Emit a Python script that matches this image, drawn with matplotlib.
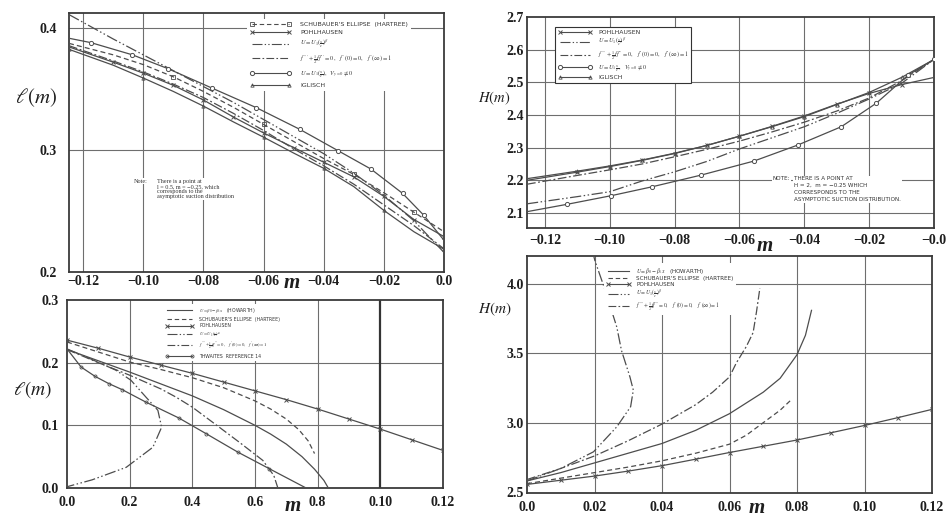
import matplotlib
matplotlib.use("Agg")
import matplotlib.pyplot as plt
from matplotlib.lines import Line2D

plt.rcParams['mathtext.fontset'] = 'stix'
plt.rcParams['font.family'] = ['Liberation Serif', 'DejaVu Serif']

# ---------------- data ----------------
# Top-left: l(m), accelerating range (m < 0)
tl_m_ubeta = [-0.1247, -0.11, -0.10, -0.09, -0.08, -0.07, -0.06, -0.05, -0.04, -0.03, -0.02, -0.01, 0.0]
tl_l_ubeta = [0.411, 0.391, 0.378, 0.365, 0.352, 0.339, 0.325, 0.311, 0.297, 0.281, 0.263, 0.242, 0.216]
tl_m_suct = [-0.1247, -0.1174, -0.1036, -0.0918, -0.0772, -0.0624, -0.048, -0.0352, -0.0243, -0.0138, -0.0068, 0.0]
tl_l_suct = [0.3916, 0.388, 0.378, 0.3667, 0.3508, 0.3347, 0.317, 0.2994, 0.2844, 0.2645, 0.2467, 0.226]
tl_m_grid = [-0.1247, -0.11, -0.10, -0.09, -0.08, -0.07, -0.06, -0.05, -0.04, -0.03, -0.02, -0.01, 0.0]
tl_l_schub = [0.3874, 0.378, 0.370, 0.360, 0.348, 0.335, 0.321, 0.307, 0.293, 0.280, 0.265, 0.249, 0.233]
tl_l_pohl = [0.3845, 0.372, 0.363, 0.353, 0.341, 0.327, 0.314, 0.302, 0.290, 0.278, 0.262, 0.243, 0.229]
tl_l_fs = [0.3855, 0.373, 0.364, 0.354, 0.343, 0.330, 0.316, 0.301, 0.287, 0.272, 0.255, 0.238, 0.219]
tl_l_igl = [0.3825, 0.3695, 0.359, 0.348, 0.336, 0.323, 0.3105, 0.2975, 0.285, 0.270, 0.2505, 0.233, 0.2186]

# Top-right: H(m), accelerating range
tr_m_grid = [-0.1255, -0.11, -0.10, -0.09, -0.08, -0.07, -0.06, -0.05, -0.04, -0.03, -0.02, -0.01, 0.0]
tr_h_igl = [2.205, 2.228, 2.244, 2.262, 2.283, 2.307, 2.335, 2.364, 2.395, 2.432, 2.469, 2.515, 2.57]
tr_h_pohl = [2.200, 2.225, 2.242, 2.261, 2.282, 2.307, 2.335, 2.365, 2.397, 2.433, 2.466, 2.493, 2.515]
tr_h_fs = [2.188, 2.215, 2.232, 2.250, 2.272, 2.295, 2.320, 2.348, 2.378, 2.412, 2.452, 2.505, 2.57]
tr_h_ubeta = [2.128, 2.150, 2.165, 2.198, 2.226, 2.258, 2.296, 2.330, 2.364, 2.405, 2.449, 2.497, 2.57]
tr_m_suct = [-0.1255, -0.1131, -0.0995, -0.087, -0.0718, -0.0555, -0.042, -0.0286, -0.0178, -0.008, 0.0]
tr_h_suct = [2.104, 2.1266, 2.153, 2.180, 2.216, 2.259, 2.308, 2.364, 2.436, 2.522, 2.57]

# Bottom-left: l(m), retarded range (m > 0)
bl_m_pohl = [0.0, 0.01, 0.02, 0.03, 0.04, 0.05, 0.06, 0.07, 0.08, 0.09, 0.10, 0.11, 0.12]
bl_l_pohl = [0.236, 0.223, 0.209, 0.196, 0.183, 0.169, 0.155, 0.141, 0.126, 0.110, 0.094, 0.077, 0.060]
bl_m_schub = [0.0, 0.01, 0.02, 0.03, 0.04, 0.05, 0.06, 0.065, 0.07, 0.074, 0.077, 0.079]
bl_l_schub = [0.233, 0.217, 0.201, 0.189, 0.176, 0.160, 0.139, 0.126, 0.110, 0.093, 0.075, 0.055]
bl_m_how = [0.0, 0.01, 0.02, 0.03, 0.04, 0.05, 0.06, 0.065, 0.07, 0.075, 0.079, 0.082, 0.0834]
bl_l_how = [0.221, 0.203, 0.185, 0.166, 0.147, 0.125, 0.100, 0.086, 0.070, 0.050, 0.030, 0.012, 0.0]
bl_m_fs = [0.0, 0.01, 0.02, 0.03, 0.0348, 0.04, 0.0486, 0.055, 0.0625, 0.066, 0.0673]
bl_l_fs = [0.221, 0.200, 0.180, 0.158, 0.145, 0.129, 0.097, 0.073, 0.044, 0.020, 0.0]
bl_m_thw = [0.0, 0.0045, 0.009, 0.0133, 0.0176, 0.0252, 0.0357, 0.0444, 0.0545, 0.0646, 0.0763]
bl_l_thw = [0.222, 0.193, 0.178, 0.1667, 0.157, 0.137, 0.1117, 0.0867, 0.0573, 0.0307, 0.0]
bl_m_ubeta = [0.0, 0.008, 0.0156, 0.0204, 0.0252, 0.029, 0.0302, 0.0274, 0.0189, 0.008, 0.0]
bl_l_ubeta = [0.222, 0.205, 0.188, 0.172, 0.145, 0.124, 0.097, 0.065, 0.033, 0.013, 0.002]

# Bottom-right: H(m), retarded range
br_m_pohl = [0.0, 0.01, 0.02, 0.03, 0.04, 0.05, 0.06, 0.07, 0.08, 0.09, 0.10, 0.11, 0.12]
br_h_pohl = [2.555, 2.585, 2.615, 2.651, 2.69, 2.737, 2.785, 2.83, 2.875, 2.927, 2.98, 3.037, 3.096]
br_m_schub = [0.0, 0.01, 0.02, 0.03, 0.04, 0.05, 0.06, 0.065, 0.07, 0.075, 0.0785]
br_h_schub = [2.56, 2.60, 2.64, 2.68, 2.725, 2.78, 2.845, 2.91, 3.0, 3.09, 3.17]
br_m_how = [0.0, 0.01, 0.02, 0.03, 0.04, 0.05, 0.06, 0.07, 0.075, 0.08, 0.0825, 0.0843]
br_h_how = [2.58, 2.64, 2.71, 2.78, 2.85, 2.945, 3.065, 3.22, 3.32, 3.49, 3.63, 3.81]
br_m_fs = [0.0, 0.01, 0.02, 0.03, 0.04, 0.05, 0.055, 0.06, 0.062, 0.065, 0.067, 0.068, 0.069]
br_h_fs = [2.59, 2.67, 2.76, 2.87, 2.99, 3.13, 3.22, 3.33, 3.43, 3.55, 3.65, 3.80, 3.97]
br_m_ubeta = [0.0, 0.01, 0.0197, 0.0266, 0.0307, 0.0315, 0.0305, 0.028, 0.0266, 0.0231, 0.0201, 0.0198]
br_h_ubeta = [2.58, 2.67, 2.79, 2.97, 3.115, 3.235, 3.33, 3.52, 3.69, 3.96, 4.17, 4.20]

# tick labels
tl_xticks = [-0.12, -0.10, -0.08, -0.06, -0.04, -0.02, 0.0]
tl_xlabels = ["\u22120.12", "\u22120.10", "\u22120.08", "\u22120.06", "\u22120.04", "\u22120.02", "0.0"]
tl_yticks = [0.2, 0.3, 0.4]
tl_ylabels = ["0.2", "0.3", "0.4"]
tr_xlabels = ["\u22120.12", "\u22120.10", "\u22120.08", "\u22120.06", "\u22120.04", "\u22120.02", "\u22120.0"]
tr_yticks = [2.1, 2.2, 2.3, 2.4, 2.5, 2.6, 2.7]
tr_ylabels = ["2.1", "2.2", "2.3", "2.4", "2.5", "2.6", "2.7"]
bl_xticks = [0.0, 0.02, 0.04, 0.06, 0.08, 0.10, 0.12]
bl_xlabels = ["0.0", "0.2", "0.4", "0.6", "0.8", "0.10", "0.12"]
bl_yticks = [0.0, 0.1, 0.2, 0.3]
bl_ylabels = ["0.0", "0.1", "0.2", "0.3"]
br_xlabels = ["0.0", "0.02", "0.04", "0.06", "0.08", "0.10", "0.12"]
br_yticks = [2.5, 3.0, 3.5, 4.0]
br_ylabels = ["2.5", "3.0", "3.5", "4.0"]

L_SCHUB = "SCHUBAUER'S ELLIPSE  (HARTREE)"
L_POHL = "POHLHAUSEN"
L_UBETA = r"$U = U_1\left(\frac{x}{c}\right)^{\beta}$"
L_FS = r"$f''' + \frac{1}{2}ff'' = 0,\quad f'(0) = 0,\quad f'(\infty) = 1$"
L_SUCT = r"$U = U_1\left(\frac{x}{c}\right),\ \ V_{y=0} \neq 0$"
L_SUCT2 = r"$U = U_1\,\frac{x}{c},\ \ V_{y=0} \neq 0$"
L_IGL = "IGLISCH"
L_HOW = r"$U = \beta_0 - \beta_1 x$   (HOWARTH)"
L_THW = "THWAITES  REFERENCE 14"

# ---------------- styling ----------------
INK = '#4d4d4d'
GRID = '#6e6e6e'
ST = {
    'how': dict(ls='-'),
    'schub': dict(ls=(0, (4, 2.5))),
    'schub_sq': dict(ls=(0, (4, 2.5)), marker='s', ms=2.4, mfc='none', mew=0.6),
    'pohl': dict(ls='-', marker='x', ms=2.2, mew=0.7),
    'ubeta': dict(ls=(0, (9, 2, 1.2, 2, 1.2, 2))),
    'fs': dict(ls=(0, (7, 2, 1.5, 2))),
    'suct': dict(ls='-', marker='o', ms=3.0, mfc='white', mew=0.7),
    'igl': dict(ls='-', marker='^', ms=2.4, mfc='none', mew=0.6),
    'thw': dict(ls='-', marker='o', ms=2.2, mfc='none', mew=0.6),
}

W, H = 947, 519
fig = plt.figure(figsize=(W / 100, H / 100), dpi=100)
fig.patch.set_facecolor('white')

TICKFONT = dict(family='Liberation Serif', weight='bold', size=10, color='#1e1e1e')


def ax_at(l, t, r, b):
    return fig.add_axes([l / W, 1 - b / H, (r - l) / W, (b - t) / H])


def frame(ax, xt, xl, yt, yl, xpad, ypad):
    ax.set_xticks(xt)
    ax.set_xticklabels(xl, fontdict=TICKFONT)
    ax.set_yticks(yt)
    ax.set_yticklabels(yl, fontdict=TICKFONT)
    for s in ax.spines.values():
        s.set_linewidth(1.3)
        s.set_color('#3a3a3a')
    ax.tick_params(length=0)
    ax.tick_params(axis='x', pad=xpad)
    ax.tick_params(axis='y', pad=ypad)


def grid(ax, xs, ys, lw=0.8):
    for x in xs:
        ax.axvline(x, color=GRID, lw=lw, zorder=1)
    for y in ys:
        ax.axhline(y, color=GRID, lw=lw, zorder=1)


def curve(ax, x, y, key, every=None):
    st = dict(ST[key])
    if every is not None:
        st['markevery'] = every
    ax.plot(x, y, color=INK, lw=0.9, zorder=3, **st)


def legend(ax, entries, anchor, size, spacing, boxed=False, hl=4.6, tp=1.6):
    handles = [Line2D([], [], color=INK, lw=0.8, **ST[k]) for k, _ in entries]
    labels = [lab for _, lab in entries]
    leg = ax.legend(handles, labels, loc='upper left', bbox_to_anchor=anchor,
                    prop=dict(family='DejaVu Sans', size=size), numpoints=2,
                    handlelength=hl, handletextpad=tp, labelspacing=spacing,
                    borderpad=0.45, borderaxespad=0, fancybox=False, framealpha=1)
    fr = leg.get_frame()
    fr.set_facecolor('white')
    fr.set_edgecolor('#333333' if boxed else 'white')
    fr.set_linewidth(0.8 if boxed else 0.0)
    for t in leg.get_texts():
        t.set_color('#333333')
    leg.set_zorder(6)
    return leg


# ---------------- top-left ----------------
ax1 = ax_at(69, 13, 444, 272)
ax1.set_xlim(-0.1247, 0.0)
ax1.set_ylim(0.2, 0.4123)
grid(ax1, tl_xticks[:-1], [0.3, 0.4])
curve(ax1, tl_m_ubeta, tl_l_ubeta, 'ubeta')
curve(ax1, tl_m_suct, tl_l_suct, 'suct', every=list(range(1, len(tl_m_suct) - 1)))
curve(ax1, tl_m_grid, tl_l_schub, 'schub_sq', every=[3, 6, 9, 11])
curve(ax1, tl_m_grid, tl_l_pohl, 'pohl', every=list(range(1, len(tl_m_grid))))
curve(ax1, tl_m_grid, tl_l_fs, 'fs')
curve(ax1, tl_m_grid, tl_l_igl, 'igl', every=list(range(0, len(tl_m_grid), 2)))
frame(ax1, tl_xticks, tl_xlabels, tl_yticks, tl_ylabels, 2.5, 9)
legend(ax1, [('schub_sq', L_SCHUB), ('pohl', L_POHL), ('ubeta', L_UBETA),
             ('fs', L_FS), ('suct', L_SUCT), ('igl', L_IGL)],
       ((247 - 69) / 375, 1 - (19 - 13) / 259), 4.5, 0.45, hl=6.6, tp=1.5)
ax1.text(-0.1033, 0.2765, "Note:", fontsize=4.4, color='#333333', va='top', ha='left',
         zorder=6, bbox=dict(fc='white', ec='none', pad=0.5))
ax1.text(-0.0953, 0.2765,
         "There is a point at\nl = 0.5, m = \u22120.25, which\ncorresponds to the\nasymptotic suction distribution",
         fontsize=4.4, color='#333333', va='top', ha='left', linespacing=1.05,
         zorder=6, bbox=dict(fc='white', ec='none', pad=0.5))

# ---------------- top-right ----------------
ax2 = ax_at(527, 17, 934, 228)
ax2.set_xlim(-0.1255, 0.0)
ax2.set_ylim(2.054, 2.7)
grid(ax2, tl_xticks[:-1], tr_yticks[:-1])
curve(ax2, tr_m_grid, tr_h_igl, 'igl', every=list(range(1, len(tr_m_grid) - 1)))
curve(ax2, tr_m_grid, tr_h_pohl, 'pohl', every=list(range(1, len(tr_m_grid) - 1)))
curve(ax2, tr_m_grid, tr_h_fs, 'fs')
curve(ax2, tr_m_grid, tr_h_ubeta, 'ubeta')
curve(ax2, tr_m_suct, tr_h_suct, 'suct', every=list(range(1, len(tr_m_suct))))
frame(ax2, tl_xticks, tr_xlabels, tr_yticks, tr_ylabels, 4, 2)
legend(ax2, [('pohl', L_POHL), ('ubeta', L_UBETA), ('fs', L_FS),
             ('suct', L_SUCT2), ('igl', L_IGL)],
       ((555 - 527) / 407, 1 - (27 - 17) / 211), 4.4, 0.2, boxed=True, hl=5.6, tp=1.0)
ax2.text(-0.0497, 2.212, "NOTE:", fontsize=4.1, family='DejaVu Sans', color='#333333',
         va='top', ha='left', zorder=6, bbox=dict(fc='white', ec='none', pad=0.6))
ax2.text(-0.0431, 2.212,
         "THERE IS A POINT AT\nH = 2,  m = \u22120.25 WHICH\nCORRESPONDS TO THE\nASYMPTOTIC SUCTION DISTRIBUTION.",
         fontsize=4.1, family='DejaVu Sans', color='#333333', va='top', ha='left',
         linespacing=1.45, zorder=6, bbox=dict(fc='white', ec='none', pad=0.6))

# ---------------- bottom-left ----------------
ax3 = ax_at(67, 300, 443, 488)
ax3.set_xlim(0.0, 0.12)
ax3.set_ylim(0.0, 0.3)
grid(ax3, [0.02, 0.04, 0.06, 0.08], [0.1, 0.2])
ax3.axvline(0.10, color='#333333', lw=1.6, zorder=1)
curve(ax3, bl_m_pohl, bl_l_pohl, 'pohl')
curve(ax3, bl_m_schub, bl_l_schub, 'schub')
curve(ax3, bl_m_how, bl_l_how, 'how')
curve(ax3, bl_m_fs, bl_l_fs, 'fs')
curve(ax3, bl_m_thw, bl_l_thw, 'thw', every=list(range(1, len(bl_m_thw) - 1)))
curve(ax3, bl_m_ubeta, bl_l_ubeta, 'ubeta')
frame(ax3, bl_xticks, bl_xlabels, bl_yticks, bl_ylabels, 6, 6)
legend(ax3, [('how', L_HOW), ('schub', L_SCHUB), ('pohl', L_POHL),
             ('ubeta', L_UBETA), ('fs', L_FS), ('thw', L_THW)],
       ((164 - 67) / 376, 1 - (304 - 300) / 188), 3.3, 0.35, hl=6.0, tp=1.2)

# ---------------- bottom-right ----------------
ax4 = ax_at(527, 256, 932, 493)
ax4.set_xlim(0.0, 0.12)
ax4.set_ylim(2.493, 4.202)
grid(ax4, [0.02, 0.04, 0.06, 0.08, 0.10], [3.0, 3.5, 4.0])
curve(ax4, br_m_pohl, br_h_pohl, 'pohl')
curve(ax4, br_m_schub, br_h_schub, 'schub')
curve(ax4, br_m_how, br_h_how, 'how')
curve(ax4, br_m_fs, br_h_fs, 'fs')
curve(ax4, br_m_ubeta, br_h_ubeta, 'ubeta')
frame(ax4, bl_xticks, br_xlabels, br_yticks, br_ylabels, 6, 2)
legend(ax4, [('how', L_HOW), ('schub', L_SCHUB), ('pohl', L_POHL),
             ('ubeta', L_UBETA), ('fs', L_FS)],
       ((604 - 527) / 405, 1 - (263 - 256) / 237), 4.1, 0.12, hl=4.2, tp=1.0)

# ---------------- axis titles ----------------
for (x, y, s, fs) in [(36, 98, r"$\ell(m)$", 15), (33, 390, r"$\ell(m)$", 14),
                      (494, 98, r"$H(m)$", 10.5), (495, 309, r"$H(m)$", 11)]:
    fig.text(x / W, 1 - y / H, s, fontsize=fs, ha='center', va='center', color='#1e1e1e')
for (x, y) in [(292, 283), (765, 246), (293, 506), (757, 508)]:
    fig.text(x / W, 1 - y / H, "m", fontsize=15, fontstyle='italic', fontweight='bold',
             ha='center', va='center', color='#1e1e1e')

fig.savefig("out.png", dpi=100, facecolor='white')
